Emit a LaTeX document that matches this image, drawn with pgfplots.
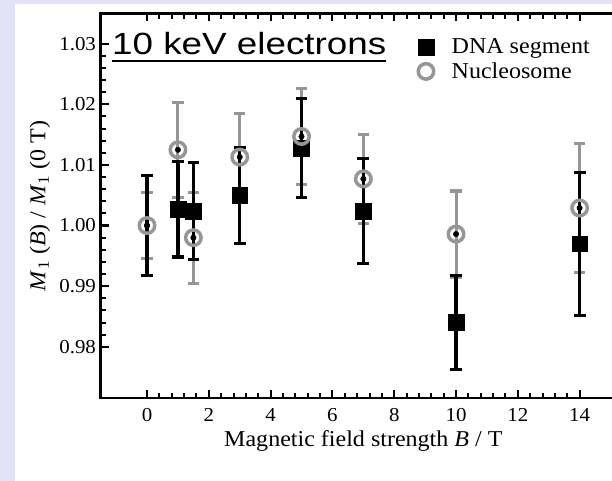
\documentclass[border=0pt]{standalone}
\usepackage{fontspec}
\setmainfont{Liberation Serif}[FakeStretch=1.06]
\newfontfamily\titlefont{Liberation Sans}[FakeStretch=1.2]
\usepackage{pgfplots}
\pgfplotsset{compat=1.18}
\usepackage{pgfplotstable}
\definecolor{lav}{RGB}{225,226,243}
\definecolor{nucgray}{RGB}{150,150,150}
\newsavebox\tbox
\newcommand{\myul}[1]{\sbox\tbox{#1}\usebox\tbox\llap{\rule[-5.8pt]{\wd\tbox}{1.4pt}}}

\pgfplotstableread{
x    y      e
0    1.0000 0.0083
1    1.0027 0.0079
1.5  1.0024 0.0080
3    1.0050 0.0079
5    1.0128 0.0082
7    1.0024 0.0086
10   0.9840 0.0077
14   0.9970 0.0118
}\dnadata

\pgfplotstableread{
x    y      e
0    1.0000 0.0055
1    1.0125 0.0078
1.5  0.9980 0.0075
3    1.0113 0.0072
5    1.0147 0.0079
7    1.0077 0.0074
10   0.9986 0.0071
14   1.0029 0.0106
}\nucdata

\begin{document}
\begin{tikzpicture}
\fill[lav] (-75.5pt,-62pt) rectangle (383.5pt,298.7pt);
\fill[white] (-64.25pt,-62pt) rectangle (383.5pt,295.7pt);
\begin{axis}[
  at={(0,0)}, anchor=south west,
  scale only axis, width=394pt, height=288.6pt,
  xmin=-1.5, xmax=15.5, ymin=0.9715, ymax=1.035,
  xtick={0,2,...,14},
  ytick={0.98,0.99,1.00,1.01,1.02,1.03},
  minor x tick num=4, minor y tick num=4,
  scaled y ticks=false,
  xtick align=inside, ytick align=inside,
  major tick length=6pt, minor tick length=4pt,
  major tick style={draw=black, line width=1.6pt},
  minor tick style={draw=black, line width=1.5pt},
  axis line style={line width=1.8pt},
  /pgf/number format/assume math mode=true,
  y tick label style={/pgf/number format/.cd, fixed, fixed zerofill, precision=2, /tikz/.cd},
  tick label style={font=\fontsize{14.8}{17}\selectfont},
  x tick label style={yshift=-4pt},
  xlabel={Magnetic field strength \textit{B} / T},
  ylabel={\textit{M}\textsubscript{1} (\textit{B}) / \textit{M}\textsubscript{1} (0 T)},
  label style={font=\fontsize{17}{20}\selectfont},
  legend style={at={(rel axis cs:0.5966,0.9415)}, anchor=north west, draw=none, fill=none,
    inner sep=0pt, font=\fontsize{17}{20}\selectfont, row sep=1pt},
  legend image code/.code={\path (0cm,0cm) (0.9cm,0cm);
    \draw[mark repeat=2,mark phase=2,#1] plot coordinates {(0cm,0cm) (0.3cm,0cm) (0.6cm,0cm)};},
  legend cell align=left,
]
\addplot[only marks, mark=none, forget plot,
  error bars/.cd, y dir=both, y explicit,
  error bar style={nucgray, line width=2.3pt},
  error mark=-, error mark options={rotate=90, nucgray, line width=2.3pt, mark size=4.2pt}]
  table[x=x, y=y, y error=e]{\nucdata};
\addplot[only marks, mark=none, forget plot,
  error bars/.cd, y dir=both, y explicit,
  error bar style={black, line width=2.4pt},
  error mark=-, error mark options={rotate=90, black, line width=2.4pt, mark size=4.4pt}]
  table[x=x, y=y, y error=e]{\dnadata};
\addplot[only marks, mark=square*, mark size=5.9pt, mark options={black, fill=black, line width=0.3pt},
  skip coords between index={0}{1}]
  table[x=x, y=y]{\dnadata};
\addlegendentry{DNA segment}
\addplot[only marks, mark=o, mark size=5.8pt, mark options={nucgray, line width=2.6pt}]
  table[x=x, y=y]{\nucdata};
\addlegendentry{Nucleosome}
\node[anchor=base west, inner sep=0pt, font=\titlefont\fontsize{23}{27}\selectfont]
  at (rel axis cs:0.0215,0.894) {\myul{10 keV electrons}};
\end{axis}
\pgfresetboundingbox
\path[use as bounding box] (-75.5pt,-62pt) rectangle (383.5pt,298.7pt);
\end{tikzpicture}
\end{document}
